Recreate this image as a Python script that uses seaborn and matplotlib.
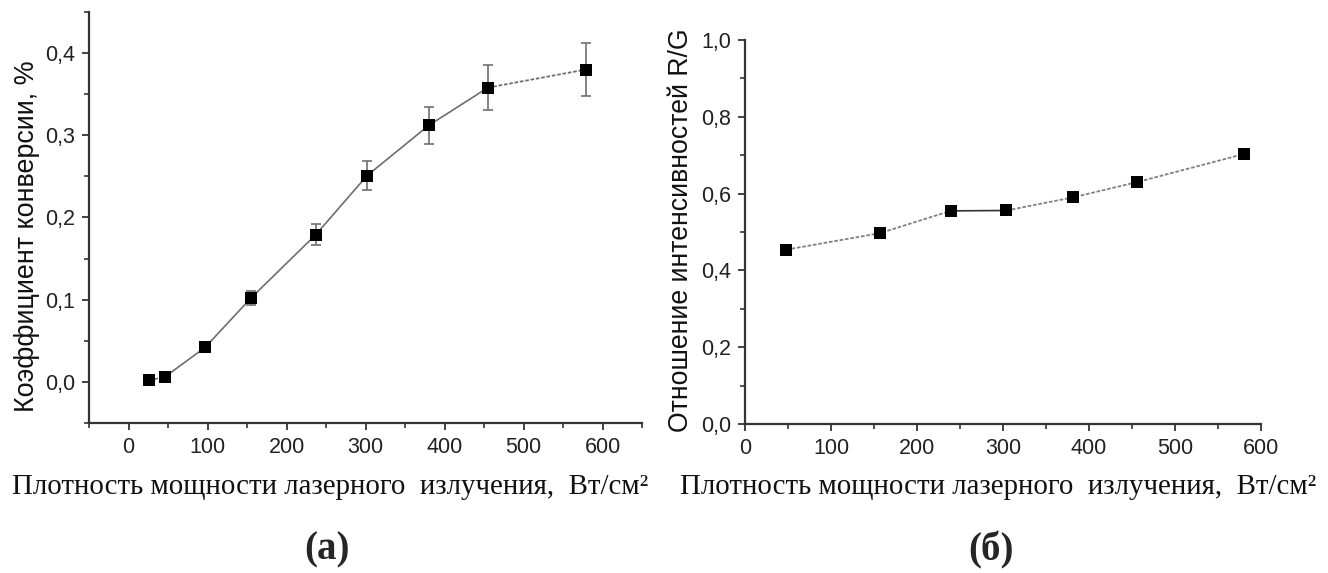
import numpy as np
import pandas as pd
import matplotlib
matplotlib.use("Agg")
import matplotlib.pyplot as plt
from matplotlib.ticker import MultipleLocator, FuncFormatter
import seaborn as sns

# Power density of the laser radiation, W/cm^2
power_a = [26, 46, 97, 155, 237, 302, 380, 455, 579]
conversion = [0.002, 0.006, 0.042, 0.102, 0.179, 0.251, 0.312, 0.358, 0.380]
conversion_err = [0.0, 0.0, 0.0, 0.009, 0.013, 0.018, 0.022, 0.027, 0.032]

power_b = [48, 157, 239, 304, 381, 456, 580]
ratio_rg = [0.454, 0.497, 0.555, 0.556, 0.590, 0.630, 0.703]

xlabel_text = "Плотность мощности лазерного  излучения,  Вт/см²"
ylabel_a = "Коэффициент конверсии, %"
ylabel_b = "Отношение интенсивностей R/G"

sns.set_theme(style="ticks")
plt.rcParams["font.family"] = ["Liberation Sans", "DejaVu Sans"]

W, H = 1328, 573
fig = plt.figure(figsize=(W / 100, H / 100), dpi=100)


def px_axes(x0, x1, ytop, ybot):
    return fig.add_axes([x0 / W, (H - ybot) / H, (x1 - x0) / W, (ybot - ytop) / H])


comma = FuncFormatter(lambda v, p: f"{v:.1f}".replace(".", ","))
axis_col = "#333333"


def style_axes(ax):
    for s in ("top", "right"):
        ax.spines[s].set_visible(False)
    for s in ("left", "bottom"):
        ax.spines[s].set_color(axis_col)
        ax.spines[s].set_linewidth(1.6)
    ax.tick_params(which="major", direction="out", length=5, width=1.3,
                   color=axis_col, labelsize=15.5, labelcolor="#222222", pad=5)
    ax.tick_params(which="minor", direction="out", length=3.5, width=1.2,
                   color=axis_col)
    ax.yaxis.set_major_formatter(comma)
    ax.set_xlabel("")
    ax.set_ylabel("")


# ---- panel (а): conversion coefficient ----
ax1 = px_axes(89, 642, 12, 423)
df_a = pd.DataFrame({"p": power_a, "k": conversion})
line_col = "#6e6e6e"
sns.lineplot(data=df_a.iloc[1:8], x="p", y="k", ax=ax1, color=line_col,
             linewidth=1.2, sort=False)
sns.lineplot(data=df_a.iloc[0:2], x="p", y="k", ax=ax1, color=line_col,
             linewidth=1.2, linestyle=(0, (2, 1.5)), sort=False)
sns.lineplot(data=df_a.iloc[7:9], x="p", y="k", ax=ax1, color=line_col,
             linewidth=1.3, linestyle=(0, (2, 1)), sort=False)
ax1.errorbar(power_a, conversion, yerr=conversion_err, fmt="none",
             ecolor="#707070", elinewidth=1.2, capsize=3.5, capthick=1.2)
sns.scatterplot(data=df_a, x="p", y="k", ax=ax1, marker="s", s=65,
                color="black", edgecolor="black", linewidth=0, zorder=5)
ax1.set_xlim(-50, 650)
ax1.set_ylim(-0.05, 0.45)
ax1.xaxis.set_major_locator(MultipleLocator(100))
ax1.xaxis.set_minor_locator(MultipleLocator(50))
ax1.yaxis.set_major_locator(MultipleLocator(0.1))
ax1.yaxis.set_minor_locator(MultipleLocator(0.05))
style_axes(ax1)
ax1.set_yticks([0.0, 0.1, 0.2, 0.3, 0.4])
ax1.set_xticks([0, 100, 200, 300, 400, 500, 600])

# ---- panel (б): R/G intensity ratio ----
ax2 = px_axes(745, 1261, 40, 424)
df_b = pd.DataFrame({"p": power_b, "r": ratio_rg})
sns.lineplot(data=df_b.iloc[0:3], x="p", y="r", ax=ax2, color="#808080",
             linewidth=1.3, linestyle=(0, (2, 1)), sort=False)
sns.lineplot(data=df_b.iloc[2:4], x="p", y="r", ax=ax2, color="#333333",
             linewidth=1.2, sort=False)
sns.lineplot(data=df_b.iloc[3:7], x="p", y="r", ax=ax2, color="#808080",
             linewidth=1.3, linestyle=(0, (2, 1)), sort=False)
sns.scatterplot(data=df_b, x="p", y="r", ax=ax2, marker="s", s=65,
                color="black", edgecolor="black", linewidth=0, zorder=5)
ax2.set_xlim(0, 600)
ax2.set_ylim(0, 1.0)
ax2.xaxis.set_major_locator(MultipleLocator(100))
ax2.xaxis.set_minor_locator(MultipleLocator(50))
ax2.yaxis.set_major_locator(MultipleLocator(0.2))
ax2.yaxis.set_minor_locator(MultipleLocator(0.1))
style_axes(ax2)

# ---- axis titles and panel letters ----
serif = ["Liberation Serif", "DejaVu Serif"]
fig.text(330 / W, 1 - 487 / H, xlabel_text, ha="center", va="center",
         fontsize=20.8, family=serif, color="#111111")
fig.text(998 / W, 1 - 487 / H, xlabel_text, ha="center", va="center",
         fontsize=20.8, family=serif, color="#111111")
fig.text(27 / W, 1 - 236 / H, ylabel_a, ha="center", va="center",
         rotation=90, fontsize=19.4, color="#111111")
fig.text(681 / W, 1 - 230 / H, ylabel_b, ha="center", va="center",
         rotation=90, fontsize=19.2, color="#111111")
fig.text(327 / W, 1 - 550 / H, "(а)", ha="center", va="center",
         fontsize=28, fontweight="bold", family=serif)
fig.text(991 / W, 1 - 550 / H, "(б)", ha="center", va="center",
         fontsize=28, fontweight="bold", family=serif)

fig.savefig("out.png", dpi=100, facecolor="white")
